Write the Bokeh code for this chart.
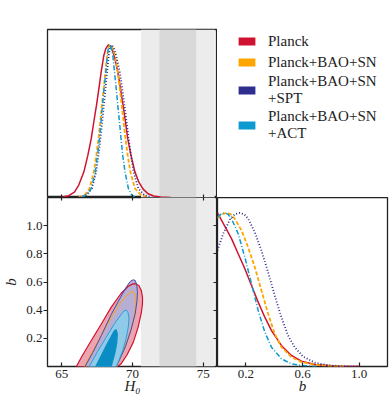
from bokeh.plotting import figure
from bokeh.layouts import gridplot
from bokeh.models import (Range1d, FixedTicker, LinearAxis, BoxAnnotation, Legend, LegendItem,
                          PrintfTickFormatter)
from bokeh.embed import file_html
from bokeh.resources import INLINE

# ---------------- data ----------------
labels = ["Planck", "Planck+BAO+SN", "Planck+BAO+SN\n+SPT", "Planck+BAO+SN\n+ACT"]
colors = ["#cf1230", "#ffa500", "#2e2e8e", "#0b9bd0"]

h0_ticks = [65, 70, 75]
b_ticks = [0.2, 0.4, 0.6, 0.8, 1.0]
b_ticks_1d = [0.2, 0.6, 1.0]

shoes_h0 = 73.2
shoes_err = 1.3

# 1D H0 posteriors
h0_planck_x = [64.9, 65.5, 65.9, 66.2, 66.57, 66.85, 67.09, 67.27, 67.46, 67.63, 67.79, 67.98, 68.12, 68.30,
               68.48, 68.62, 68.78, 68.96, 69.15, 69.33, 69.50, 69.66, 69.89, 70.17, 70.45, 70.75, 71.1, 71.5, 72.0, 72.7]
h0_planck_y = [0.0, 0.012, 0.035, 0.08, 0.168, 0.277, 0.387, 0.496, 0.605, 0.714, 0.823, 0.932, 0.975, 1.0,
               0.985, 0.955, 0.9, 0.823, 0.714, 0.605, 0.496, 0.387, 0.277, 0.168, 0.1, 0.055, 0.025, 0.01, 0.003, 0.0]

h0_bao_x = [66.2, 66.65, 66.97, 67.27, 67.45, 67.60, 67.73, 67.84, 67.97, 68.09, 68.21, 68.32, 68.44,
            68.58, 68.77, 68.96, 69.1, 69.24, 69.37, 69.50, 69.67, 69.85, 70.17, 70.6, 71.1]
h0_bao_y = [0.0, 0.02, 0.059, 0.168, 0.28, 0.387, 0.50, 0.605, 0.72, 0.823, 0.932, 0.985, 1.0,
            0.98, 0.932, 0.823, 0.715, 0.605, 0.495, 0.387, 0.27, 0.168, 0.059, 0.015, 0.0]

h0_spt_x = [66.3, 66.8, 67.13, 67.44, 67.6, 67.74, 67.87, 67.98, 68.1, 68.21, 68.33, 68.43, 68.54,
            68.68, 68.84, 69.10, 69.27, 69.43, 69.58, 69.73, 69.9, 70.08, 70.41, 70.83, 71.4]
h0_spt_y = [0.0, 0.02, 0.059, 0.168, 0.28, 0.387, 0.50, 0.605, 0.72, 0.823, 0.932, 0.985, 1.0,
            0.98, 0.932, 0.823, 0.715, 0.605, 0.495, 0.387, 0.27, 0.168, 0.059, 0.015, 0.0]

h0_act_x = [66.4, 66.8, 67.09, 67.37, 67.53, 67.67, 67.78, 67.88, 68.0, 68.12, 68.23, 68.31, 68.40,
            68.5, 68.61, 68.73, 68.85, 68.96, 69.08, 69.19, 69.32, 69.47, 69.71, 69.94, 70.25]
h0_act_y = [0.0, 0.02, 0.059, 0.168, 0.28, 0.387, 0.5, 0.605, 0.72, 0.823, 0.932, 0.985, 1.0,
            0.98, 0.932, 0.823, 0.715, 0.605, 0.495, 0.387, 0.27, 0.168, 0.059, 0.015, 0.0]

# 1D b posteriors
b_planck_x = [0.0, 0.052, 0.099, 0.146, 0.193, 0.240, 0.287, 0.334, 0.381, 0.451, 0.522, 0.593, 0.687, 0.85, 1.0]
b_planck_y = [1.0, 0.912, 0.832, 0.734, 0.636, 0.527, 0.419, 0.321, 0.234, 0.137, 0.072, 0.035, 0.013, 0.002, 0.0]

b_bao_x = [0.0, 0.03, 0.064, 0.095, 0.122, 0.169, 0.216, 0.263, 0.310, 0.357, 0.404, 0.451, 0.522, 0.593, 0.687, 0.804, 0.9]
b_bao_y = [0.968, 0.99, 1.0, 0.99, 0.962, 0.886, 0.777, 0.647, 0.495, 0.343, 0.213, 0.126, 0.061, 0.028, 0.011, 0.002, 0.0]

b_spt_x = [0.0, 0.040, 0.087, 0.12, 0.157, 0.19, 0.216, 0.263, 0.310, 0.357, 0.404, 0.451, 0.498, 0.545, 0.604, 0.687, 0.781, 0.875, 1.0]
b_spt_y = [0.755, 0.864, 0.955, 0.99, 1.0, 0.99, 0.962, 0.875, 0.755, 0.614, 0.462, 0.321, 0.202, 0.125, 0.065, 0.025, 0.008, 0.002, 0.0]

b_act_x = [0.0, 0.025, 0.052, 0.075, 0.099, 0.146, 0.193, 0.240, 0.287, 0.334, 0.381, 0.451, 0.522, 0.593, 0.7]
b_act_y = [0.972, 0.992, 1.0, 0.99, 0.962, 0.864, 0.712, 0.538, 0.365, 0.224, 0.126, 0.050, 0.017, 0.007, 0.0]

# 2D contours (H0, b)
c_planck95_h0 = [66.04, 66.39, 67.09, 67.79, 68.49, 69.2, 69.7, 70.0, 70.2, 70.45, 70.62, 70.71, 70.70, 70.62,
                 70.4, 70.05, 69.6, 69.2, 68.95]
c_planck95_b = [0.0, 0.066, 0.185, 0.30, 0.42, 0.52, 0.57, 0.585, 0.588, 0.575, 0.54, 0.49, 0.44, 0.38,
                0.28, 0.17, 0.08, 0.02, 0.0]

c_spt95_h0 = [66.65, 67.2, 67.8, 68.5, 69.2, 69.6, 69.85, 70.05, 70.2, 70.3, 70.35, 70.32, 70.2, 69.9, 69.5, 69.05, 68.85]
c_spt95_b = [0.0, 0.1, 0.22, 0.37, 0.5, 0.57, 0.605, 0.616, 0.61, 0.58, 0.53, 0.47, 0.38, 0.26, 0.14, 0.04, 0.0]

c_bao95_h0 = [66.6, 67.2, 67.8, 68.5, 69.2, 69.7, 69.9, 70.05, 70.2, 70.25, 70.1, 69.8, 69.4, 69.0, 68.85]
c_bao95_b = [0.0, 0.11, 0.22, 0.35, 0.46, 0.515, 0.532, 0.53, 0.5, 0.44, 0.34, 0.23, 0.12, 0.03, 0.0]

c_act95_h0 = [66.95, 67.5, 68.1, 68.7, 69.2, 69.4, 69.55, 69.68, 69.75, 69.7, 69.55, 69.3, 69.0, 68.85]
c_act95_b = [0.0, 0.1, 0.2, 0.3, 0.37, 0.395, 0.40, 0.385, 0.34, 0.28, 0.2, 0.11, 0.035, 0.0]

c_act68_h0 = [67.4, 67.8, 68.2, 68.55, 68.72, 68.85, 68.93, 68.9, 68.75, 68.5]
c_act68_b = [0.0, 0.08, 0.16, 0.225, 0.255, 0.262, 0.235, 0.17, 0.09, 0.0]

# ---------------- style ----------------
FONT = "Liberation Serif"
TXT = "#222222"
LINE = "#222222"
fill_planck = "#eca5b0"
fill_spt = "#b7add5"
fill_act95 = "#8fcbe8"
fill_act68 = "#0a8dc4"
band_light = "#ececec"
band_dark = "#d9d9d9"


def style_fig(p):
    p.grid.visible = False
    p.outline_line_color = LINE
    p.outline_line_width = 1.3
    p.background_fill_color = "white"
    p.border_fill_color = "white"


def style_axis(ax, ticks, show_labels=True, tin=0, tout=0, standoff=3):
    ax.ticker = FixedTicker(ticks=ticks)
    ax.major_tick_in = tin
    ax.major_tick_out = tout
    ax.minor_tick_line_color = None
    ax.axis_line_color = None
    ax.major_tick_line_color = LINE
    ax.major_tick_line_width = 1.2
    ax.major_label_standoff = standoff
    ax.major_label_text_font = FONT
    ax.major_label_text_color = TXT
    if show_labels:
        ax.major_label_text_font_size = "13px"
    else:
        ax.major_label_text_font_size = "1px"
        ax.major_label_overrides = {t: "" for t in ticks}
    ax.axis_label_text_font = FONT
    ax.axis_label_text_color = TXT
    ax.axis_label_text_font_size = "15px"
    ax.axis_label_text_font_style = "italic"


def add_bands(p):
    p.add_layout(BoxAnnotation(left=shoes_h0 - 2 * shoes_err, right=shoes_h0 + 2 * shoes_err,
                               fill_color=band_light, fill_alpha=1, line_color=None, level="underlay"))
    p.add_layout(BoxAnnotation(left=shoes_h0 - shoes_err, right=shoes_h0 + shoes_err,
                               fill_color=band_dark, fill_alpha=1, line_color=None, level="underlay"))


h0_range = Range1d(64, 76)
b_range = Range1d(0, 1.2)

LEFT = 46
TOP = 29
BOTTOM = 44
FW1 = 171
FW2 = 170

# top-left: 1D H0
p1 = figure(width=LEFT + FW1, height=TOP + 168, x_range=h0_range, y_range=Range1d(0, 1.1),
            y_axis_location=None, output_backend="svg", toolbar_location=None,
            min_border_left=LEFT, min_border_right=0, min_border_top=TOP, min_border_bottom=0)
style_fig(p1)
style_axis(p1.xaxis[0], h0_ticks, show_labels=False, tin=3, tout=0, standoff=0)
add_bands(p1)
p1.line(h0_planck_x, h0_planck_y, line_color=colors[0], line_width=1.5)
p1.line(h0_bao_x, h0_bao_y, line_color=colors[1], line_width=1.8, line_dash="4 2")
p1.line(h0_spt_x, h0_spt_y, line_color=colors[2], line_width=1.8, line_dash="1 2")
p1.line(h0_act_x, h0_act_y, line_color=colors[3], line_width=1.5, line_dash="5 2 1 2")

# top-right: legend (swatch renderers hold the 2D contour data, which lies outside this cell's view)
p2 = figure(width=FW2 + 4, height=TOP + 168, x_range=Range1d(0, 1), y_range=Range1d(0, 1),
            x_axis_location=None, y_axis_location=None, output_backend="svg", toolbar_location=None,
            min_border_left=0, min_border_right=0, min_border_top=0, min_border_bottom=0)
p2.grid.visible = False
p2.outline_line_color = None
p2.background_fill_color = "white"
p2.border_fill_color = "white"
swatch_src = [(c_planck95_h0, c_planck95_b), (c_bao95_h0, c_bao95_b),
              (c_spt95_h0, c_spt95_b), (c_act95_h0, c_act95_b)]
items = []
for lab, col, (sx, sy) in zip(labels, colors, swatch_src):
    r = p2.patch(sx, sy, fill_color=col, line_color=None)
    items.append(LegendItem(label=lab, renderers=[r]))
leg = Legend(items=items, location=(17, 53), margin=0, padding=2, spacing=1,
             glyph_width=21, glyph_height=10, label_height=20, label_standoff=11,
             label_text_font=FONT, label_text_font_size="15px", label_text_color=TXT,
             label_text_line_height=0.95,
             border_line_alpha=0, background_fill_alpha=0)
p2.add_layout(leg)

# bottom-left: 2D
p3 = figure(width=LEFT + FW1, height=169 + BOTTOM, x_range=h0_range, y_range=b_range,
            output_backend="svg", toolbar_location=None,
            min_border_left=LEFT, min_border_right=0, min_border_top=0, min_border_bottom=BOTTOM)
style_fig(p3)
style_axis(p3.xaxis[0], h0_ticks, tin=4, tout=0, standoff=3)
p3.xaxis[0].axis_label = "H₀"
p3.xaxis[0].axis_label_standoff = -3
style_axis(p3.yaxis[0], b_ticks, tin=0, tout=4, standoff=1)
p3.yaxis[0].formatter = PrintfTickFormatter(format="%.1f")
p3.yaxis[0].axis_label = "b"
p3.yaxis[0].axis_label_standoff = 4
top_ax = LinearAxis()
style_axis(top_ax, h0_ticks, show_labels=False, tin=3, tout=0, standoff=0)
p3.add_layout(top_ax, "above")
right_ax = LinearAxis()
style_axis(right_ax, b_ticks, show_labels=False, tin=4, tout=0, standoff=0)
p3.add_layout(right_ax, "right")
add_bands(p3)
p3.patch(c_planck95_h0, c_planck95_b, fill_color=fill_planck, line_color=None)
p3.patch(c_spt95_h0, c_spt95_b, fill_color=fill_spt, line_color=None)
p3.patch(c_planck95_h0, c_planck95_b, fill_color=None, line_color=colors[0], line_width=1.2)
p3.patch(c_bao95_h0, c_bao95_b, fill_color=None, line_color=colors[1], line_width=1.0)
p3.patch(c_spt95_h0, c_spt95_b, fill_color=None, line_color="#4a4aa8", line_width=1.0)
p3.patch(c_act95_h0, c_act95_b, fill_color=fill_act95, line_color="#2aa0d8", line_width=1.0)
p3.patch(c_act68_h0, c_act68_b, fill_color=fill_act68, line_color=fill_act68, line_width=1.0)

# bottom-right: 1D b
p4 = figure(width=FW2 + 4, height=169 + BOTTOM, x_range=Range1d(0, 1.2), y_range=Range1d(0, 1.1),
            y_axis_location=None, output_backend="svg", toolbar_location=None,
            min_border_left=0, min_border_right=4, min_border_top=0, min_border_bottom=BOTTOM)
style_fig(p4)
style_axis(p4.xaxis[0], b_ticks_1d, tin=4, tout=0, standoff=3)
p4.xaxis[0].formatter = PrintfTickFormatter(format="%.1f")
p4.xaxis[0].axis_label = "b"
p4.xaxis[0].axis_label_standoff = -3
p4.line(b_planck_x, b_planck_y, line_color=colors[0], line_width=1.5)
p4.line(b_bao_x, b_bao_y, line_color=colors[1], line_width=1.8, line_dash="4 2")
p4.line(b_spt_x, b_spt_y, line_color=colors[2], line_width=1.8, line_dash="1 2")
p4.line(b_act_x, b_act_y, line_color=colors[3], line_width=1.5, line_dash="5 2 1 2")

grid = gridplot([[p1, p2], [p3, p4]], toolbar_location=None)

open("out.html", "w").write(file_html(grid, INLINE))
